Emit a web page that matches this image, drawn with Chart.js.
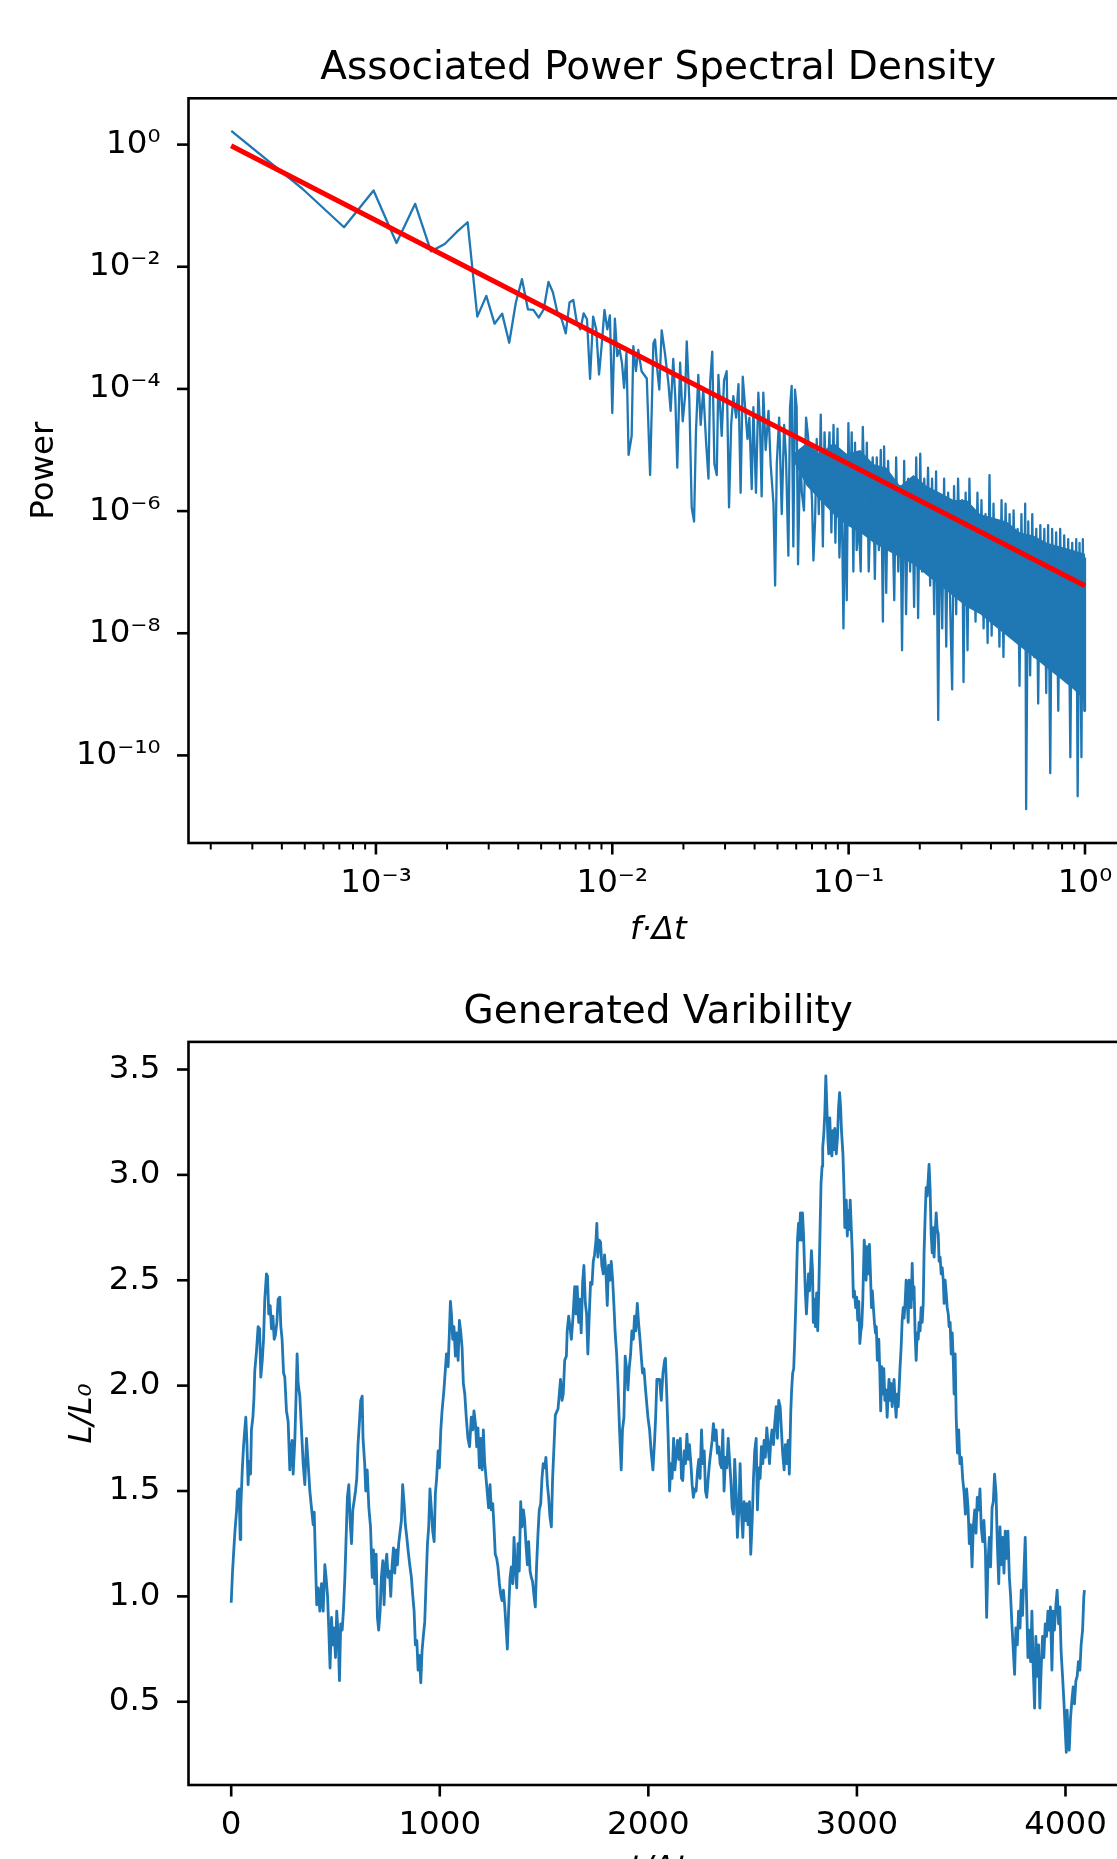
<!DOCTYPE html>
<html>
<head>
<meta charset="utf-8">
<title>Associated Power Spectral Density / Generated Varibility</title>
<script src="https://cdn.jsdelivr.net/npm/chart.js@4.4.1/dist/chart.umd.min.js"></script>
<style>
  html, body { margin: 0; padding: 0; background: #fff; width: 1117px; height: 1859px; overflow: hidden; }
  canvas { position: absolute; left: 0; }
  #psd { top: 0; }
  #lc { top: 930px; }
</style>
</head>
<body>
<canvas id="psd" width="1160" height="960"></canvas>
<canvas id="lc" width="1160" height="970"></canvas>
<script>
// --- top panel: power spectrum, stored as [log10(f*dt), log10(power)]
const psdLog = [
  [-3.612,0.225],[-3.311,-0.723],[-3.135,-1.353],[-3.010,-0.751],[-2.913,-1.611],[-2.834,-0.970],
  [-2.767,-1.748],[-2.709,-1.627],[-2.658,-1.43],[-2.612,-1.271],[-2.571,-2.816],[-2.533,-2.477],
  [-2.498,-2.932],[-2.466,-2.767],[-2.436,-3.244],[-2.408,-2.586],[-2.382,-2.203],[-2.357,-2.696],
  [-2.334,-2.707],[-2.311,-2.833],[-2.290,-2.696],[-2.270,-2.247],[-2.251,-2.422],[-2.232,-2.751],
  [-2.214,-2.86],[-2.197,-3.09],[-2.181,-2.586],[-2.165,-2.542],[-2.150,-2.915],[-2.135,-3.025],
  [-2.121,-2.762],[-2.107,-2.860],[-2.094,-3.836],[-2.081,-2.816],[-2.068,-3.025],[-2.056,-3.764],
  [-2.044,-3.244],[-2.033,-2.707],[-2.021,-3.025],[-2.010,-2.795],[-2.000,-4.395],[-1.989,-2.849],
  [-1.979,-3.463],[-1.969,-3.353],[-1.959,-3.573],[-1.950,-3.984],[-1.940,-3.408],[-1.931,-5.08],
  [-1.918,-4.77],[-1.911,-3.30],[-1.900,-3.71],[-1.890,-3.36],[-1.876,-3.71],[-1.854,-3.83],
  [-1.840,-5.41],[-1.826,-3.25],[-1.819,-3.19],[-1.809,-3.71],[-1.801,-4.01],[-1.791,-3.04],
  [-1.777,-3.42],[-1.763,-3.89],[-1.753,-4.36],[-1.742,-3.51],[-1.733,-4.18],[-1.725,-5.29],
  [-1.713,-3.57],[-1.702,-4.53],[-1.692,-4.12],[-1.685,-3.22],[-1.674,-4.18],[-1.664,-5.94],
  [-1.654,-6.17],[-1.646,-4.71],[-1.636,-3.77],[-1.626,-4.59],[-1.615,-4.01],[-1.603,-4.88],
  [-1.593,-5.47],[-1.586,-3.89],[-1.577,-3.39],[-1.568,-5.23],[-1.558,-5.41],[-1.551,-3.77],
  [-1.537,-4.77],[-1.527,-3.86],[-1.516,-3.71],[-1.506,-5.94],[-1.497,-4.59],[-1.488,-4.12],
  [-1.476,-4.47],[-1.466,-3.92],[-1.457,-5.70],[-1.448,-3.80],[-1.438,-4.30],[-1.428,-4.82],
  [-1.420,-4.47],[-1.410,-5.64],[-1.403,-4.30],[-1.392,-5.70],[-1.382,-4.06],[-1.375,-4.59],
  [-1.368,-5.76],[-1.361,-4.06],[-1.351,-5.00],[-1.339,-4.36],[-1.330,-5.23],[-1.318,-5.88],
  [-1.311,-7.22],[-1.304,-5.23],[-1.294,-4.47],[-1.283,-6.05],[-1.273,-4.59],[-1.265,-5.12],
  [-1.255,-6.73],[-1.248,-4.30],[-1.241,-3.95],[-1.234,-6.58],[-1.227,-4.01],[-1.220,-4.30],
  [-1.214,-6.87],[-1.205,-5.00],[-1.198,-5.70],[-1.189,-5.99],[-1.180,-4.47],[-1.172,-4.77],
  [-1.163,-5.23],[-1.155,-5.82],[-1.149,-6.81],[-1.142,-6.17],[-1.135,-4.82],[-1.126,-6.05],
  [-1.118,-4.42],[-1.109,-6.58],[-1.102,-4.71],[-1.093,-5.82],[-1.081,-4.71],[-1.073,-6.35],
  [-1.064,-4.59],[-1.056,-6.52],[-1.047,-4.65],[-1.039,-6.76],[-1.030,-5.53],[-1.022,-7.92],
  [-1.015,-5.82],[-1.008,-7.46],[-1.001,-4.56],[-0.994,-6.11],[-0.987,-4.71],[-0.980,-6.99],
  [-0.973,-4.88],[-0.966,-6.64],[-0.957,-6.17],[-0.949,-6.99],[-0.940,-4.62],[-0.930,-6.29],
  [-0.923,-4.88],[-0.915,-6.99],[-0.906,-5.70],[-0.898,-5.12],[-0.889,-7.11],[-0.881,-5.12],
  [-0.872,-6.64],[-0.864,-5.00],[-0.855,-7.81],[-0.850,-4.94],[-0.841,-7.34],[-0.833,-5.18],
  [-0.824,-6.29],[-0.816,-5.82],[-0.807,-7.46],[-0.799,-5.12],[-0.790,-6.99],[-0.782,-5.59],
  [-0.774,-8.28],[-0.765,-5.18],[-0.757,-7.69],[-0.748,-5.47],[-0.740,-6.99],[-0.731,-5.59],
  [-0.723,-7.57],[-0.714,-5.12],[-0.706,-7.75],[-0.697,-5.06],[-0.689,-6.99],[-0.680,-5.47],
  [-0.672,-6.64],[-0.664,-5.29],[-0.655,-7.22],[-0.647,-5.47],[-0.638,-7.69],[-0.630,-5.35],
  [-0.621,-9.42],[-0.613,-5.82],[-0.604,-7.92],[-0.596,-5.47],[-0.587,-8.22],[-0.579,-5.70],
  [-0.570,-7.63],[-0.562,-8.92],[-0.554,-5.59],[-0.545,-7.69],[-0.537,-5.47],[-0.528,-7.11],
  [-0.520,-5.82],[-0.514,-8.80],[-0.505,-5.70],[-0.497,-8.28],[-0.489,-5.47],[-0.480,-7.34],
  [-0.472,-6.05],[-0.463,-7.81],[-0.455,-5.70],[-0.446,-7.52],[-0.438,-5.82],[-0.429,-7.92],
  [-0.421,-6.05],[-0.412,-8.16],[-0.404,-5.41],[-0.395,-8.04],[-0.387,-5.88],[-0.379,-7.69],
  [-0.370,-6.17],[-0.362,-8.22],[-0.353,-5.82],[-0.345,-8.39],[-0.336,-5.88],[-0.328,-7.81],
  [-0.319,-6.05],[-0.311,-8.04],[-0.302,-5.99],[-0.294,-7.57],[-0.285,-6.29],[-0.277,-8.86],
  [-0.269,-6.05],[-0.260,-8.16],[-0.253,-5.88],[-0.249,-10.88],[-0.240,-6.17],[-0.232,-8.69],
  [-0.223,-6.05],[-0.215,-8.39],[-0.206,-6.29],[-0.198,-9.15],[-0.189,-6.23],[-0.181,-7.81],
  [-0.172,-6.29],[-0.164,-8.98],[-0.156,-6.23],[-0.147,-10.29],[-0.139,-6.29],[-0.130,-8.39],
  [-0.122,-6.35],[-0.113,-9.27],[-0.105,-6.29],[-0.096,-8.69],[-0.088,-6.40],[-0.079,-8.39],
  [-0.071,-6.46],[-0.062,-10.03],[-0.054,-6.52],[-0.046,-8.86],[-0.037,-6.46],[-0.031,-10.67],
  [-0.023,-6.52],[-0.015,-10.03],[-0.009,-6.46],[-0.003,-9.27],[0.000,-6.76]
];

// where the line is so dense it prints as a solid blue mass (log10 values, top edge is jagged)
const bandLogFreq   = [-1.234, -1.177, -1.121, -1.064, -1.008, -0.951, -0.895, -0.839, -0.782, -0.726,
                       -0.669, -0.613, -0.556, -0.500, -0.443, -0.387, -0.331, -0.274, -0.218, -0.161,
                       -0.105, -0.048, 0.0];
const bandLogTop    = [-5.06, -4.88, -5.06, -4.88, -5.06, -5.00, -5.23, -5.29, -5.59, -5.41,
                       -5.59, -5.70, -5.82, -5.82, -6.05, -6.11, -6.17, -6.35, -6.40, -6.52,
                       -6.58, -6.64, -6.70];
const bandLogBottom = [-5.18, -5.59, -5.82, -6.05, -6.23, -6.35, -6.52, -6.64, -6.76, -6.87,
                       -7.05, -7.22, -7.40, -7.57, -7.69, -7.87, -8.04, -8.22, -8.39, -8.57,
                       -8.74, -8.92, -9.10];

// red power-law fit (straight in log-log, so two ends are enough)
const fitFreq  = [2.44e-4, 1.0];
const fitPower = [0.96, 6.0e-8];

// --- bottom panel: generated light curve [t/dt, L/L0]
const lightCurve = [
  [0,0.97],[6,1.11],[13,1.23],[18,1.31],[26,1.41],[30,1.50],[34,1.45],[38,1.51],[43,1.27],[46,1.42],
  [53,1.60],[59,1.71],[65,1.79],[70,1.85],[75,1.74],[81,1.53],[86,1.64],[93,1.58],[97,1.79],[104,1.85],
  [109,1.94],[113,2.07],[121,2.16],[129,2.28],[136,2.27],[142,2.04],[149,2.12],[155,2.22],[161,2.41],
  [169,2.53],[174,2.52],[180,2.34],[187,2.38],[193,2.27],[200,2.33],[206,2.22],[212,2.24],[219,2.30],
  [225,2.41],[233,2.42],[238,2.28],[244,2.22],[251,2.06],[257,2.04],[265,1.88],[273,1.83],[281,1.60],
  [286,1.69],[292,1.74],[297,1.58],[305,1.74],[311,1.95],[316,2.15],[321,2.01],[329,1.95],[337,1.79],
  [345,1.63],[353,1.53],[361,1.75],[369,1.63],[377,1.50],[385,1.42],[393,1.34],[398,1.40],[404,1.17],
  [410,0.96],[417,1.04],[425,0.93],[433,1.06],[441,0.93],[449,1.15],[455,1.09],[462,1.00],[468,0.84],
  [474,0.66],[481,0.90],[487,0.77],[493,0.85],[500,0.71],[506,0.93],[513,0.81],[519,0.60],[525,0.87],
  [532,0.84],[538,0.93],[545,1.09],[551,1.28],[557,1.47],[564,1.53],[570,1.36],[577,1.25],[583,1.41],
  [589,1.45],[596,1.50],[602,1.56],[608,1.72],[615,1.83],[621,1.93],[628,1.95],[632,1.75],[640,1.63],
  [645,1.50],[652,1.60],[660,1.42],[668,1.33],[676,1.09],[682,1.22],[688,1.06],[695,1.20],[701,0.90],
  [707,0.84],[714,0.93],[720,1.09],[727,1.17],[733,0.96],[739,1.14],[746,1.20],[752,1.09],[759,1.12],
  [765,1.00],[771,1.14],[778,1.23],[784,1.11],[791,1.22],[797,1.15],[803,1.25],[810,1.31],[816,1.36],
  [822,1.53],[829,1.44],[835,1.34],[842,1.28],[848,1.22],[856,1.15],[864,1.09],[870,1.01],[877,0.93],
  [883,0.77],[890,0.79],[896,0.65],[902,0.72],[909,0.59],[915,0.74],[921,0.81],[928,0.88],[934,1.06],
  [941,1.25],[947,1.33],[953,1.51],[960,1.41],[966,1.31],[973,1.26],[979,1.49],[985,1.56],[992,1.69],
  [998,1.61],[1005,1.79],[1011,1.88],[1020,1.98],[1032,2.15],[1040,2.09],[1046,2.25],[1051,2.40],
  [1056,2.34],[1062,2.22],[1068,2.28],[1075,2.14],[1081,2.25],[1088,2.12],[1094,2.31],[1100,2.26],
  [1107,2.18],[1113,2.01],[1120,1.96],[1127,1.85],[1135,1.75],[1143,1.71],[1151,1.85],[1158,1.79],
  [1164,1.88],[1171,1.82],[1177,1.71],[1183,1.80],[1190,1.61],[1196,1.75],[1203,1.60],[1209,1.79],
  [1215,1.64],[1222,1.56],[1228,1.49],[1234,1.42],[1241,1.53],[1247,1.41],[1254,1.44],[1260,1.33],
  [1266,1.20],[1273,1.18],[1279,1.14],[1286,1.06],[1292,1.01],[1298,0.98],[1305,1.03],[1311,0.96],
  [1318,0.85],[1324,0.75],[1330,0.93],[1337,1.09],[1343,1.14],[1350,1.06],[1356,1.28],[1362,1.14],
  [1369,1.04],[1375,1.25],[1381,1.12],[1388,1.45],[1394,1.33],[1401,1.41],[1407,1.36],[1413,1.25],
  [1420,1.15],[1426,1.26],[1433,1.12],[1439,1.09],[1445,1.07],[1452,1.00],[1458,0.95],[1464,1.14],
  [1471,1.30],[1477,1.41],[1484,1.44],[1490,1.56],[1496,1.63],[1503,1.61],[1509,1.66],[1516,1.53],
  [1522,1.47],[1528,1.38],[1535,1.33],[1541,1.56],[1548,1.72],[1554,1.86],[1567,1.89],[1579,2.03],
  [1586,1.93],[1592,1.96],[1599,2.12],[1607,2.14],[1611,2.26],[1618,2.33],[1624,2.28],[1631,2.22],
  [1639,2.33],[1647,2.47],[1653,2.34],[1659,2.47],[1666,2.30],[1672,2.41],[1678,2.25],[1685,2.49],
  [1691,2.57],[1698,2.39],[1704,2.34],[1710,2.15],[1717,2.34],[1723,2.49],[1730,2.48],[1736,2.59],
  [1742,2.62],[1749,2.69],[1753,2.77],[1758,2.61],[1765,2.69],[1771,2.68],[1777,2.57],[1784,2.53],
  [1790,2.62],[1797,2.53],[1803,2.38],[1809,2.57],[1816,2.50],[1822,2.59],[1829,2.50],[1835,2.38],
  [1841,2.25],[1848,2.15],[1854,2.01],[1862,1.79],[1870,1.60],[1876,1.79],[1883,1.85],[1889,2.14],
  [1896,2.08],[1902,1.98],[1908,2.08],[1915,2.15],[1921,2.26],[1928,2.22],[1934,2.33],[1940,2.26],
  [1947,2.39],[1953,2.30],[1960,2.22],[1966,2.14],[1972,2.06],[1979,2.08],[1985,2.00],[1991,1.93],
  [1998,1.85],[2006,1.79],[2014,1.68],[2022,1.60],[2030,1.74],[2035,1.85],[2041,2.03],[2054,2.03],
  [2062,1.93],[2070,2.06],[2078,2.12],[2082,2.13],[2089,1.94],[2094,1.79],[2102,1.50],[2108,1.63],
  [2114,1.56],[2121,1.75],[2127,1.60],[2134,1.68],[2140,1.74],[2146,1.65],[2153,1.75],[2159,1.56],
  [2165,1.55],[2172,1.69],[2178,1.63],[2185,1.77],[2191,1.65],[2197,1.72],[2204,1.63],[2210,1.53],
  [2216,1.47],[2223,1.51],[2229,1.50],[2236,1.60],[2242,1.65],[2248,1.56],[2255,1.79],[2261,1.63],
  [2268,1.69],[2274,1.50],[2280,1.47],[2287,1.56],[2293,1.63],[2300,1.69],[2306,1.74],[2312,1.82],
  [2319,1.74],[2325,1.79],[2331,1.68],[2338,1.71],[2344,1.63],[2351,1.61],[2357,1.79],[2363,1.50],
  [2370,1.66],[2376,1.61],[2383,1.75],[2389,1.65],[2395,1.56],[2402,1.42],[2408,1.39],[2414,1.65],
  [2421,1.49],[2427,1.28],[2434,1.41],[2440,1.63],[2446,1.41],[2453,1.28],[2459,1.45],[2466,1.36],
  [2472,1.44],[2478,1.34],[2485,1.45],[2491,1.20],[2498,1.36],[2504,1.56],[2510,1.69],[2517,1.75],
  [2523,1.41],[2530,1.61],[2536,1.56],[2542,1.71],[2549,1.63],[2555,1.74],[2561,1.66],[2568,1.80],
  [2574,1.72],[2581,1.63],[2587,1.74],[2593,1.79],[2600,1.72],[2606,1.82],[2613,1.90],[2619,1.75],
  [2625,1.93],[2632,1.90],[2638,1.79],[2644,1.68],[2651,1.60],[2657,1.72],[2664,1.63],[2670,1.74],
  [2676,1.58],[2683,1.88],[2687,1.98],[2692,2.06],[2697,2.08],[2702,2.22],[2708,2.42],[2715,2.69],
  [2720,2.77],[2724,2.69],[2729,2.82],[2734,2.69],[2739,2.82],[2744,2.72],[2749,2.56],[2753,2.44],
  [2758,2.34],[2763,2.44],[2768,2.53],[2773,2.45],[2777,2.53],[2782,2.64],[2787,2.55],[2791,2.30],
  [2796,2.41],[2801,2.28],[2807,2.44],[2812,2.26],[2817,2.44],[2824,2.77],[2828,2.96],[2833,3.04],
  [2836,3.13],[2841,3.19],[2846,3.29],[2851,3.47],[2856,3.32],[2861,3.17],[2865,3.10],[2870,3.27],
  [2875,3.12],[2880,3.09],[2885,3.21],[2890,3.12],[2894,3.22],[2901,3.10],[2907,3.18],[2912,3.32],
  [2917,3.39],[2922,3.32],[2926,3.21],[2933,3.10],[2938,2.94],[2942,2.75],[2949,2.88],[2954,2.71],
  [2958,2.83],[2963,2.74],[2968,2.88],[2973,2.75],[2978,2.63],[2983,2.42],[2988,2.45],[2994,2.37],
  [2999,2.42],[3004,2.31],[3009,2.40],[3014,2.20],[3019,2.26],[3023,2.28],[3028,2.40],[3035,2.69],
  [3039,2.63],[3044,2.50],[3049,2.66],[3054,2.53],[3060,2.67],[3065,2.53],[3070,2.37],[3074,2.45],
  [3079,2.37],[3084,2.30],[3089,2.25],[3093,2.28],[3098,2.12],[3105,2.22],[3110,2.06],[3114,1.88],
  [3119,2.09],[3124,1.96],[3129,2.08],[3134,1.93],[3140,1.98],[3145,1.85],[3150,1.96],[3154,2.03],
  [3159,1.93],[3164,2.01],[3169,1.90],[3174,1.98],[3178,2.03],[3183,1.93],[3188,1.85],[3193,1.96],
  [3198,1.90],[3202,1.98],[3207,2.09],[3212,2.18],[3217,2.31],[3222,2.37],[3226,2.32],[3231,2.39],
  [3236,2.50],[3241,2.41],[3246,2.30],[3250,2.50],[3255,2.45],[3260,2.37],[3265,2.58],[3270,2.41],
  [3274,2.47],[3279,2.25],[3284,2.12],[3289,2.25],[3294,2.22],[3298,2.30],[3303,2.26],[3308,2.37],
  [3313,2.30],[3318,2.39],[3322,2.63],[3327,2.80],[3332,2.94],[3337,2.90],[3342,2.98],[3346,3.05],
  [3351,2.93],[3356,2.72],[3361,2.63],[3366,2.75],[3370,2.61],[3375,2.72],[3380,2.82],[3385,2.74],
  [3390,2.72],[3394,2.59],[3399,2.61],[3404,2.53],[3409,2.56],[3414,2.50],[3418,2.39],[3423,2.50],
  [3428,2.44],[3433,2.37],[3438,2.34],[3442,2.28],[3447,2.30],[3452,2.15],[3457,2.25],[3462,2.12],
  [3466,1.96],[3471,2.15],[3476,1.85],[3482,1.68],[3488,1.79],[3494,1.63],[3501,1.66],[3507,1.56],
  [3514,1.49],[3520,1.39],[3526,1.51],[3533,1.42],[3539,1.25],[3545,1.34],[3552,1.14],[3558,1.33],
  [3565,1.41],[3571,1.30],[3577,1.47],[3584,1.41],[3590,1.51],[3596,1.33],[3603,1.26],[3609,1.36],
  [3616,1.22],[3622,0.90],[3628,1.15],[3635,1.28],[3641,1.14],[3648,1.42],[3654,1.45],[3660,1.58],
  [3667,1.49],[3673,1.26],[3680,1.06],[3686,1.33],[3692,1.15],[3699,1.28],[3705,1.11],[3711,1.31],
  [3718,1.18],[3724,1.31],[3731,1.09],[3737,1.00],[3743,0.87],[3750,0.74],[3756,0.63],[3762,0.85],
  [3769,0.77],[3775,0.93],[3782,0.85],[3788,1.03],[3794,0.91],[3801,1.12],[3807,1.28],[3813,1.00],
  [3820,0.71],[3826,0.84],[3833,0.69],[3839,0.93],[3845,0.67],[3852,0.47],[3858,0.81],[3864,0.62],
  [3871,0.77],[3877,0.47],[3884,0.67],[3890,0.81],[3896,0.71],[3903,0.87],[3909,0.81],[3916,0.93],
  [3922,0.84],[3928,0.95],[3935,0.65],[3941,0.93],[3947,0.84],[3954,0.96],[3960,1.03],[3967,0.87],
  [3973,0.95],[3979,0.74],[3986,0.62],[3992,0.51],[3999,0.36],[4004,0.26],[4008,0.46],[4013,0.33],
  [4018,0.27],[4024,0.42],[4031,0.51],[4037,0.57],[4043,0.49],[4050,0.60],[4056,0.62],[4062,0.69],
  [4069,0.65],[4075,0.77],[4082,0.84],[4088,1.00],[4091,1.03]
];

// ticks
const psdXMajor = [1e-3, 1e-2, 1e-1, 1];
const psdXMinor = [2e-4,3e-4,4e-4,5e-4,6e-4,7e-4,8e-4,9e-4,
                   2e-3,3e-3,4e-3,5e-3,6e-3,7e-3,8e-3,9e-3,
                   2e-2,3e-2,4e-2,5e-2,6e-2,7e-2,8e-2,9e-2,
                   0.2,0.3,0.4,0.5,0.6,0.7,0.8,0.9];
const psdYMajor = [1, 1e-2, 1e-4, 1e-6, 1e-8, 1e-10];
const lcXTicks = [0, 1000, 2000, 3000, 4000];
const lcYTicks = [0.5, 1.0, 1.5, 2.0, 2.5, 3.0, 3.5];

const BLUE = '#1f77b4';
const FONT = 'DejaVu Sans';
Chart.defaults.font.family = FONT;
Chart.defaults.color = '#000';

const SUP = {'0':'⁰','1':'¹','2':'²','3':'³','4':'⁴','5':'⁵','6':'⁶','7':'⁷','8':'⁸','9':'⁹','-':'⁻'};
function pow10Label(v) {
  const e = Math.round(Math.log10(v));
  return '10' + String(e).split('').map(c => SUP[c]).join('');
}

// matplotlib-like box and outward ticks, placed with the chart's own scales
function framePlugin(xMajor, xMinor, yMajor) {
  return {
    id: 'frame',
    afterDraw(chart) {
      const { ctx, chartArea: a, scales } = chart;
      ctx.save();
      ctx.strokeStyle = '#000';
      ctx.lineWidth = 2.6;
      ctx.strokeRect(a.left, a.top, a.right - a.left, a.bottom - a.top);
      const tick = (x1, y1, x2, y2) => { ctx.beginPath(); ctx.moveTo(x1, y1); ctx.lineTo(x2, y2); ctx.stroke(); };
      xMajor.forEach(v => { const p = scales.x.getPixelForValue(v); tick(p, a.bottom, p, a.bottom + 11.5); });
      yMajor.forEach(v => { const p = scales.y.getPixelForValue(v); tick(a.left - 11.5, p, a.left, p); });
      ctx.lineWidth = 2;
      xMinor.forEach(v => { const p = scales.x.getPixelForValue(v); tick(p, a.bottom, p, a.bottom + 6.5); });
      ctx.restore();
    }
  };
}

const plainAxis = {
  bounds: 'data',
  grid: { display: false, drawTicks: false },
  border: { display: false },
};

// ---------- top: PSD ----------
new Chart(document.getElementById('psd'), {
  type: 'line',
  data: {
    datasets: [
      { data: fitFreq.map((f, i) => ({ x: f, y: fitPower[i] })),
        borderColor: '#ff0000', borderWidth: 5, pointRadius: 0, order: 0 },
      { data: psdLog.map(([lf, lp]) => ({ x: Math.pow(10, lf), y: Math.pow(10, lp) })),
        borderColor: BLUE, borderWidth: 2.3, pointRadius: 0, borderJoinStyle: 'round', order: 1 },
      { data: bandLogFreq.map((lf, i) => ({ x: Math.pow(10, lf), y: Math.pow(10, bandLogTop[i]) })),
        borderColor: 'rgba(0,0,0,0)', borderWidth: 1, pointRadius: 0, order: 2 },
      { data: bandLogFreq.map((lf, i) => ({ x: Math.pow(10, lf), y: Math.pow(10, bandLogBottom[i]) })),
        borderColor: 'rgba(0,0,0,0)', borderWidth: 1, pointRadius: 0, order: 3,
        fill: '-1', backgroundColor: BLUE }
    ]
  },
  options: {
    responsive: false,
    animation: false,
    layout: { padding: { left: 0, right: 32, top: 45.5, bottom: 9.8 } },
    plugins: {
      legend: { display: false },
      tooltip: { enabled: false },
      title: { display: true, text: 'Associated Power Spectral Density', fullSize: false,
               font: { size: 39, weight: 'normal' }, color: '#000', padding: { top: 0, bottom: 6 } }
    },
    scales: {
      x: { ...plainAxis, type: 'logarithmic', min: Math.pow(10, -3.793), max: Math.pow(10, 0.182),
           afterFit: s => { s.height = 107.2; },
           afterBuildTicks: s => { s.ticks = psdXMajor.map(v => ({ value: v })); },
           ticks: { autoSkip: false, maxRotation: 0, padding: 21.5, font: { size: 32.5 }, callback: v => pow10Label(v) },
           title: { display: true, text: 'f·Δt', font: { size: 32.5, style: 'italic' }, padding: { top: 0, bottom: 0 } } },
      y: { ...plainAxis, type: 'logarithmic', min: Math.pow(10, -11.434), max: Math.pow(10, 0.758),
           afterFit: s => { s.width = 188.5; },
           afterBuildTicks: s => { s.ticks = psdYMajor.map(v => ({ value: v })); },
           ticks: { autoSkip: false, padding: 28, font: { size: 32.5 }, callback: v => pow10Label(v) },
           title: { display: true, text: 'Power', font: { size: 32.5 }, padding: { top: 25.5, bottom: 0 } } }
    }
  },
  plugins: [framePlugin(psdXMajor, psdXMinor, psdYMajor)]
});

// ---------- bottom: light curve ----------
new Chart(document.getElementById('lc'), {
  type: 'line',
  data: {
    datasets: [
      { data: lightCurve.map(([t, l]) => ({ x: t, y: l })),
        borderColor: BLUE, borderWidth: 2.8, pointRadius: 0, borderJoinStyle: 'round' }
    ]
  },
  options: {
    responsive: false,
    animation: false,
    layout: { padding: { left: 0, right: 32, top: 59, bottom: 11 } },
    plugins: {
      legend: { display: false },
      tooltip: { enabled: false },
      title: { display: true, text: 'Generated Varibility', fullSize: false,
               font: { size: 39, weight: 'normal' }, color: '#000', padding: { top: 0, bottom: 6.1 } }
    },
    scales: {
      x: { ...plainAxis, type: 'linear', min: -204.75, max: 4299.75,
           afterFit: s => { s.height = 104; },
           afterBuildTicks: s => { s.ticks = lcXTicks.map(v => ({ value: v })); },
           ticks: { autoSkip: false, maxRotation: 0, padding: 21, font: { size: 32.5 }, callback: v => String(v) },
           title: { display: true, text: 't/Δt', font: { size: 32.5, style: 'italic' }, padding: { top: 0, bottom: 0 } } },
      y: { ...plainAxis, type: 'linear', min: 0.105, max: 3.631,
           afterFit: s => { s.width = 188.5; },
           afterBuildTicks: s => { s.ticks = lcYTicks.map(v => ({ value: v })); },
           ticks: { autoSkip: false, padding: 28, font: { size: 32.5 }, callback: v => v.toFixed(1) },
           title: { display: true, text: 'L/L₀', font: { size: 32.5, style: 'italic' }, padding: { top: 63, bottom: 0 } } }
    }
  },
  plugins: [framePlugin(lcXTicks, [], lcYTicks)]
});
</script>
</body>
</html>
